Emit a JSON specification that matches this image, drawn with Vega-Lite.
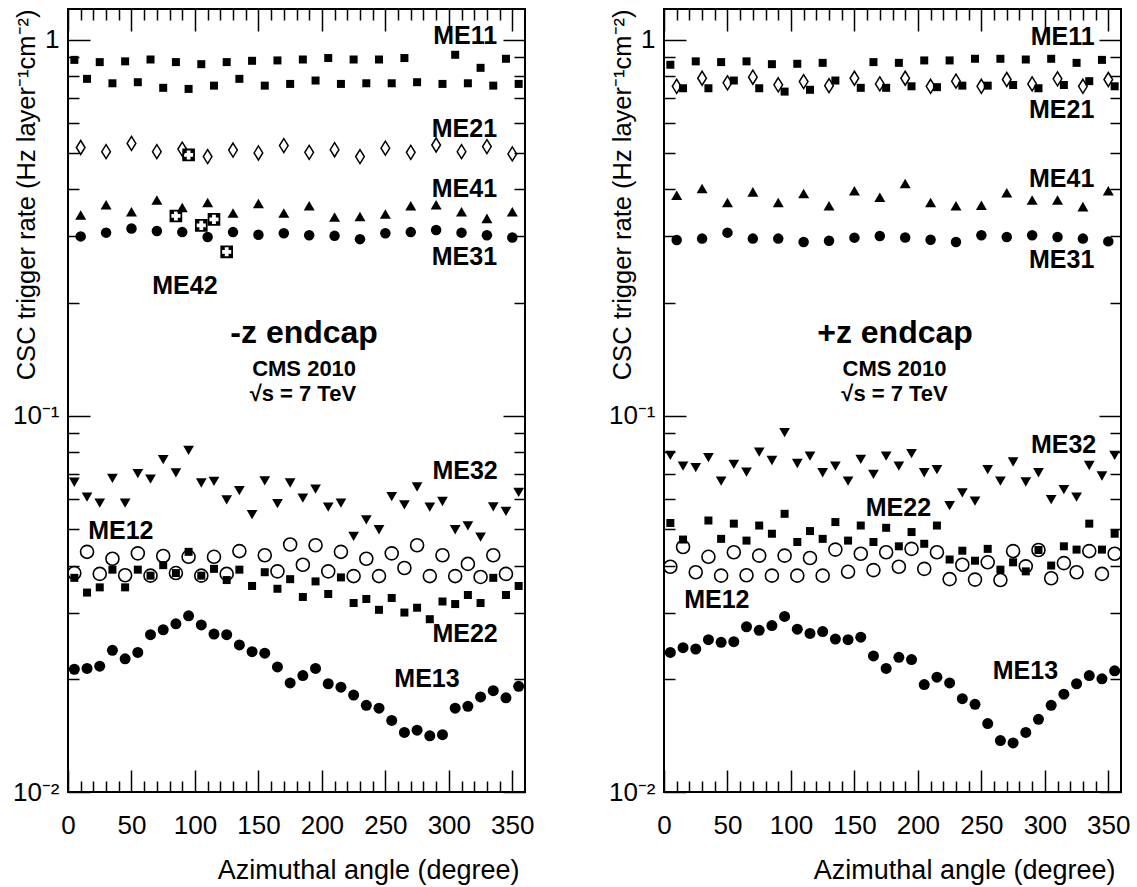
{
"$schema":"https://vega.github.io/schema/vega-lite/v6.json",
"background":"white",
"padding":{"left":11,"top":7,"right":5,"bottom":5},
"config":{"view":{"stroke":"black","strokeWidth":2},"font":"Liberation Sans"},
"datasets":{
"zm":[
{"s":"ME11","phi":5,"r":0.884},{"s":"ME11","phi":15,"r":0.787},{"s":"ME11","phi":25,"r":0.872},{"s":"ME11","phi":35,"r":0.766},{"s":"ME11","phi":45,"r":0.876},{"s":"ME11","phi":55,"r":0.771},{"s":"ME11","phi":65,"r":0.886},{"s":"ME11","phi":75,"r":0.745},{"s":"ME11","phi":85,"r":0.872},{"s":"ME11","phi":95,"r":0.740},{"s":"ME11","phi":105,"r":0.861},{"s":"ME11","phi":115,"r":0.755},{"s":"ME11","phi":125,"r":0.872},{"s":"ME11","phi":135,"r":0.787},{"s":"ME11","phi":145,"r":0.879},{"s":"ME11","phi":155,"r":0.755},{"s":"ME11","phi":165,"r":0.881},{"s":"ME11","phi":175,"r":0.763},{"s":"ME11","phi":185,"r":0.886},{"s":"ME11","phi":195,"r":0.779},{"s":"ME11","phi":205,"r":0.894},{"s":"ME11","phi":215,"r":0.763},{"s":"ME11","phi":225,"r":0.886},{"s":"ME11","phi":235,"r":0.766},{"s":"ME11","phi":245,"r":0.886},{"s":"ME11","phi":255,"r":0.766},{"s":"ME11","phi":265,"r":0.894},{"s":"ME11","phi":275,"r":0.771},{"s":"ME11","phi":295,"r":0.763},{"s":"ME11","phi":305,"r":0.912},{"s":"ME11","phi":315,"r":0.766},{"s":"ME11","phi":325,"r":0.842},{"s":"ME11","phi":335,"r":0.755},{"s":"ME11","phi":345,"r":0.89},{"s":"ME11","phi":355,"r":0.763},
{"s":"ME21","phi":10,"r":0.517},{"s":"ME21","phi":30,"r":0.504},{"s":"ME21","phi":50,"r":0.530},{"s":"ME21","phi":70,"r":0.504},{"s":"ME21","phi":90,"r":0.512},{"s":"ME21","phi":110,"r":0.489},{"s":"ME21","phi":130,"r":0.509},{"s":"ME21","phi":150,"r":0.500},{"s":"ME21","phi":170,"r":0.523},{"s":"ME21","phi":190,"r":0.502},{"s":"ME21","phi":210,"r":0.510},{"s":"ME21","phi":230,"r":0.489},{"s":"ME21","phi":250,"r":0.515},{"s":"ME21","phi":270,"r":0.502},{"s":"ME21","phi":290,"r":0.525},{"s":"ME21","phi":310,"r":0.504},{"s":"ME21","phi":330,"r":0.520},{"s":"ME21","phi":350,"r":0.497},
{"s":"ME41","phi":10,"r":0.342},{"s":"ME41","phi":30,"r":0.364},{"s":"ME41","phi":50,"r":0.349},{"s":"ME41","phi":70,"r":0.375},{"s":"ME41","phi":90,"r":0.358},{"s":"ME41","phi":110,"r":0.369},{"s":"ME41","phi":130,"r":0.346},{"s":"ME41","phi":150,"r":0.367},{"s":"ME41","phi":170,"r":0.346},{"s":"ME41","phi":190,"r":0.362},{"s":"ME41","phi":210,"r":0.338},{"s":"ME41","phi":230,"r":0.339},{"s":"ME41","phi":250,"r":0.344},{"s":"ME41","phi":270,"r":0.362},{"s":"ME41","phi":290,"r":0.364},{"s":"ME41","phi":310,"r":0.349},{"s":"ME41","phi":330,"r":0.335},{"s":"ME41","phi":350,"r":0.349},
{"s":"ME31","phi":10,"r":0.300},{"s":"ME31","phi":30,"r":0.307},{"s":"ME31","phi":50,"r":0.315},{"s":"ME31","phi":70,"r":0.310},{"s":"ME31","phi":90,"r":0.308},{"s":"ME31","phi":110,"r":0.299},{"s":"ME31","phi":130,"r":0.308},{"s":"ME31","phi":150,"r":0.303},{"s":"ME31","phi":170,"r":0.306},{"s":"ME31","phi":190,"r":0.302},{"s":"ME31","phi":210,"r":0.301},{"s":"ME31","phi":230,"r":0.295},{"s":"ME31","phi":250,"r":0.306},{"s":"ME31","phi":270,"r":0.308},{"s":"ME31","phi":290,"r":0.312},{"s":"ME31","phi":310,"r":0.307},{"s":"ME31","phi":330,"r":0.302},{"s":"ME31","phi":350,"r":0.298},
{"s":"ME42","phi":85,"r":0.340},{"s":"ME42","phi":95,"r":0.494},{"s":"ME42","phi":105,"r":0.321},{"s":"ME42","phi":115,"r":0.333},{"s":"ME42","phi":125,"r":0.273},
{"s":"ME32","phi":5,"r":0.0666},{"s":"ME32","phi":15,"r":0.0608},{"s":"ME32","phi":25,"r":0.0586},{"s":"ME32","phi":35,"r":0.0682},{"s":"ME32","phi":45,"r":0.0586},{"s":"ME32","phi":55,"r":0.0702},{"s":"ME32","phi":65,"r":0.0679},{"s":"ME32","phi":75,"r":0.0765},{"s":"ME32","phi":85,"r":0.0705},{"s":"ME32","phi":95,"r":0.081},{"s":"ME32","phi":105,"r":0.0663},{"s":"ME32","phi":115,"r":0.067},{"s":"ME32","phi":125,"r":0.0598},{"s":"ME32","phi":135,"r":0.0633},{"s":"ME32","phi":145,"r":0.0546},{"s":"ME32","phi":155,"r":0.0672},{"s":"ME32","phi":165,"r":0.0584},{"s":"ME32","phi":175,"r":0.0663},{"s":"ME32","phi":185,"r":0.0604},{"s":"ME32","phi":195,"r":0.0639},{"s":"ME32","phi":205,"r":0.0572},{"s":"ME32","phi":215,"r":0.0586},{"s":"ME32","phi":225,"r":0.0478},{"s":"ME32","phi":235,"r":0.0529},{"s":"ME32","phi":245,"r":0.0498},{"s":"ME32","phi":255,"r":0.061},{"s":"ME32","phi":265,"r":0.058},{"s":"ME32","phi":275,"r":0.0647},{"s":"ME32","phi":285,"r":0.0572},{"s":"ME32","phi":295,"r":0.0592},{"s":"ME32","phi":305,"r":0.0498},{"s":"ME32","phi":315,"r":0.051},{"s":"ME32","phi":325,"r":0.0476},{"s":"ME32","phi":335,"r":0.0573},{"s":"ME32","phi":345,"r":0.0557},{"s":"ME32","phi":355,"r":0.0626},
{"s":"ME12","phi":5,"r":0.0382},{"s":"ME12","phi":15,"r":0.0435},{"s":"ME12","phi":25,"r":0.038},{"s":"ME12","phi":35,"r":0.0417},{"s":"ME12","phi":45,"r":0.0377},{"s":"ME12","phi":55,"r":0.0431},{"s":"ME12","phi":65,"r":0.0376},{"s":"ME12","phi":75,"r":0.0424},{"s":"ME12","phi":85,"r":0.0382},{"s":"ME12","phi":95,"r":0.0422},{"s":"ME12","phi":105,"r":0.0376},{"s":"ME12","phi":115,"r":0.0422},{"s":"ME12","phi":125,"r":0.038},{"s":"ME12","phi":135,"r":0.0437},{"s":"ME12","phi":155,"r":0.0426},{"s":"ME12","phi":165,"r":0.0386},{"s":"ME12","phi":175,"r":0.0455},{"s":"ME12","phi":185,"r":0.0402},{"s":"ME12","phi":195,"r":0.0453},{"s":"ME12","phi":205,"r":0.0386},{"s":"ME12","phi":215,"r":0.0435},{"s":"ME12","phi":225,"r":0.0375},{"s":"ME12","phi":235,"r":0.0417},{"s":"ME12","phi":245,"r":0.0375},{"s":"ME12","phi":255,"r":0.0431},{"s":"ME12","phi":265,"r":0.0394},{"s":"ME12","phi":275,"r":0.0453},{"s":"ME12","phi":285,"r":0.0375},{"s":"ME12","phi":295,"r":0.0426},{"s":"ME12","phi":305,"r":0.0375},{"s":"ME12","phi":315,"r":0.0404},{"s":"ME12","phi":325,"r":0.0373},{"s":"ME12","phi":335,"r":0.0426},{"s":"ME12","phi":345,"r":0.038},
{"s":"ME22","phi":5,"r":0.0371},{"s":"ME22","phi":15,"r":0.0339},{"s":"ME22","phi":25,"r":0.035},{"s":"ME22","phi":35,"r":0.039},{"s":"ME22","phi":45,"r":0.035},{"s":"ME22","phi":55,"r":0.039},{"s":"ME22","phi":65,"r":0.0376},{"s":"ME22","phi":75,"r":0.0401},{"s":"ME22","phi":85,"r":0.0382},{"s":"ME22","phi":95,"r":0.0435},{"s":"ME22","phi":105,"r":0.0376},{"s":"ME22","phi":115,"r":0.0392},{"s":"ME22","phi":125,"r":0.0366},{"s":"ME22","phi":135,"r":0.039},{"s":"ME22","phi":145,"r":0.0353},{"s":"ME22","phi":155,"r":0.0384},{"s":"ME22","phi":165,"r":0.0347},{"s":"ME22","phi":175,"r":0.0368},{"s":"ME22","phi":185,"r":0.033},{"s":"ME22","phi":195,"r":0.0363},{"s":"ME22","phi":205,"r":0.0336},{"s":"ME22","phi":215,"r":0.0372},{"s":"ME22","phi":225,"r":0.0318},{"s":"ME22","phi":235,"r":0.0326},{"s":"ME22","phi":245,"r":0.0305},{"s":"ME22","phi":255,"r":0.0328},{"s":"ME22","phi":265,"r":0.03},{"s":"ME22","phi":275,"r":0.0309},{"s":"ME22","phi":285,"r":0.0288},{"s":"ME22","phi":295,"r":0.0321},{"s":"ME22","phi":305,"r":0.0316},{"s":"ME22","phi":315,"r":0.0334},{"s":"ME22","phi":325,"r":0.0318},{"s":"ME22","phi":335,"r":0.0371},{"s":"ME22","phi":345,"r":0.0334},{"s":"ME22","phi":355,"r":0.0353},
{"s":"ME13","phi":5,"r":0.0212},{"s":"ME13","phi":15,"r":0.0213},{"s":"ME13","phi":25,"r":0.0216},{"s":"ME13","phi":35,"r":0.0238},{"s":"ME13","phi":45,"r":0.0226},{"s":"ME13","phi":55,"r":0.0235},{"s":"ME13","phi":65,"r":0.0262},{"s":"ME13","phi":75,"r":0.027},{"s":"ME13","phi":85,"r":0.028},{"s":"ME13","phi":95,"r":0.0294},{"s":"ME13","phi":105,"r":0.0278},{"s":"ME13","phi":115,"r":0.0263},{"s":"ME13","phi":125,"r":0.0262},{"s":"ME13","phi":135,"r":0.0246},{"s":"ME13","phi":145,"r":0.0236},{"s":"ME13","phi":155,"r":0.0234},{"s":"ME13","phi":165,"r":0.0215},{"s":"ME13","phi":175,"r":0.0195},{"s":"ME13","phi":185,"r":0.0204},{"s":"ME13","phi":195,"r":0.0213},{"s":"ME13","phi":205,"r":0.0194},{"s":"ME13","phi":215,"r":0.019},{"s":"ME13","phi":225,"r":0.0181},{"s":"ME13","phi":235,"r":0.017},{"s":"ME13","phi":245,"r":0.0167},{"s":"ME13","phi":255,"r":0.0155},{"s":"ME13","phi":265,"r":0.0144},{"s":"ME13","phi":275,"r":0.0146},{"s":"ME13","phi":285,"r":0.0141},{"s":"ME13","phi":295,"r":0.0142},{"s":"ME13","phi":305,"r":0.0167},{"s":"ME13","phi":315,"r":0.0169},{"s":"ME13","phi":325,"r":0.0179},{"s":"ME13","phi":335,"r":0.0186},{"s":"ME13","phi":345,"r":0.0178},{"s":"ME13","phi":355,"r":0.0191}
],
"zp":[
{"s":"ME11","phi":5,"r":0.858},{"s":"ME11","phi":15,"r":0.743},{"s":"ME11","phi":25,"r":0.876},{"s":"ME11","phi":35,"r":0.743},{"s":"ME11","phi":45,"r":0.872},{"s":"ME11","phi":55,"r":0.779},{"s":"ME11","phi":65,"r":0.876},{"s":"ME11","phi":75,"r":0.743},{"s":"ME11","phi":85,"r":0.861},{"s":"ME11","phi":95,"r":0.728},{"s":"ME11","phi":105,"r":0.863},{"s":"ME11","phi":115,"r":0.736},{"s":"ME11","phi":125,"r":0.868},{"s":"ME11","phi":135,"r":0.779},{"s":"ME11","phi":155,"r":0.745},{"s":"ME11","phi":165,"r":0.872},{"s":"ME11","phi":175,"r":0.745},{"s":"ME11","phi":185,"r":0.868},{"s":"ME11","phi":195,"r":0.752},{"s":"ME11","phi":205,"r":0.881},{"s":"ME11","phi":215,"r":0.748},{"s":"ME11","phi":225,"r":0.881},{"s":"ME11","phi":235,"r":0.755},{"s":"ME11","phi":245,"r":0.89},{"s":"ME11","phi":255,"r":0.755},{"s":"ME11","phi":265,"r":0.89},{"s":"ME11","phi":275,"r":0.758},{"s":"ME11","phi":285,"r":0.886},{"s":"ME11","phi":295,"r":0.743},{"s":"ME11","phi":305,"r":0.89},{"s":"ME11","phi":315,"r":0.758},{"s":"ME11","phi":325,"r":0.868},{"s":"ME11","phi":335,"r":0.776},{"s":"ME11","phi":345,"r":0.884},{"s":"ME11","phi":355,"r":0.752},
{"s":"ME21","phi":10,"r":0.752},{"s":"ME21","phi":30,"r":0.79},{"s":"ME21","phi":50,"r":0.768},{"s":"ME21","phi":70,"r":0.795},{"s":"ME21","phi":90,"r":0.759},{"s":"ME21","phi":110,"r":0.774},{"s":"ME21","phi":130,"r":0.755},{"s":"ME21","phi":150,"r":0.79},{"s":"ME21","phi":170,"r":0.763},{"s":"ME21","phi":190,"r":0.79},{"s":"ME21","phi":210,"r":0.752},{"s":"ME21","phi":230,"r":0.776},{"s":"ME21","phi":250,"r":0.752},{"s":"ME21","phi":270,"r":0.784},{"s":"ME21","phi":290,"r":0.763},{"s":"ME21","phi":310,"r":0.787},{"s":"ME21","phi":330,"r":0.752},{"s":"ME21","phi":350,"r":0.784},
{"s":"ME41","phi":10,"r":0.386},{"s":"ME41","phi":30,"r":0.402},{"s":"ME41","phi":50,"r":0.369},{"s":"ME41","phi":70,"r":0.394},{"s":"ME41","phi":90,"r":0.369},{"s":"ME41","phi":110,"r":0.39},{"s":"ME41","phi":130,"r":0.362},{"s":"ME41","phi":150,"r":0.397},{"s":"ME41","phi":170,"r":0.381},{"s":"ME41","phi":190,"r":0.415},{"s":"ME41","phi":210,"r":0.369},{"s":"ME41","phi":230,"r":0.362},{"s":"ME41","phi":250,"r":0.363},{"s":"ME41","phi":270,"r":0.392},{"s":"ME41","phi":290,"r":0.375},{"s":"ME41","phi":310,"r":0.375},{"s":"ME41","phi":330,"r":0.36},{"s":"ME41","phi":350,"r":0.397},
{"s":"ME31","phi":10,"r":0.2935},{"s":"ME31","phi":30,"r":0.296},{"s":"ME31","phi":50,"r":0.307},{"s":"ME31","phi":70,"r":0.296},{"s":"ME31","phi":90,"r":0.296},{"s":"ME31","phi":110,"r":0.29},{"s":"ME31","phi":130,"r":0.292},{"s":"ME31","phi":150,"r":0.2977},{"s":"ME31","phi":170,"r":0.3007},{"s":"ME31","phi":190,"r":0.298},{"s":"ME31","phi":210,"r":0.294},{"s":"ME31","phi":230,"r":0.29},{"s":"ME31","phi":250,"r":0.302},{"s":"ME31","phi":270,"r":0.299},{"s":"ME31","phi":290,"r":0.302},{"s":"ME31","phi":310,"r":0.299},{"s":"ME31","phi":330,"r":0.296},{"s":"ME31","phi":350,"r":0.291},
{"s":"ME32","phi":5,"r":0.0785},{"s":"ME32","phi":15,"r":0.0735},{"s":"ME32","phi":25,"r":0.0728},{"s":"ME32","phi":35,"r":0.0774},{"s":"ME32","phi":45,"r":0.0671},{"s":"ME32","phi":55,"r":0.0743},{"s":"ME32","phi":65,"r":0.0709},{"s":"ME32","phi":75,"r":0.0801},{"s":"ME32","phi":85,"r":0.0761},{"s":"ME32","phi":95,"r":0.0902},{"s":"ME32","phi":105,"r":0.0747},{"s":"ME32","phi":115,"r":0.0782},{"s":"ME32","phi":125,"r":0.0706},{"s":"ME32","phi":135,"r":0.0735},{"s":"ME32","phi":145,"r":0.0671},{"s":"ME32","phi":155,"r":0.0766},{"s":"ME32","phi":165,"r":0.0699},{"s":"ME32","phi":175,"r":0.0782},{"s":"ME32","phi":185,"r":0.0735},{"s":"ME32","phi":195,"r":0.0794},{"s":"ME32","phi":205,"r":0.0706},{"s":"ME32","phi":215,"r":0.072},{"s":"ME32","phi":225,"r":0.0577},{"s":"ME32","phi":235,"r":0.0624},{"s":"ME32","phi":245,"r":0.0593},{"s":"ME32","phi":255,"r":0.072},{"s":"ME32","phi":265,"r":0.0671},{"s":"ME32","phi":275,"r":0.0754},{"s":"ME32","phi":285,"r":0.0667},{"s":"ME32","phi":295,"r":0.0706},{"s":"ME32","phi":305,"r":0.0599},{"s":"ME32","phi":315,"r":0.0637},{"s":"ME32","phi":325,"r":0.0608},{"s":"ME32","phi":335,"r":0.0738},{"s":"ME32","phi":345,"r":0.0692},{"s":"ME32","phi":355,"r":0.0785},
{"s":"ME22","phi":5,"r":0.0519},{"s":"ME22","phi":15,"r":0.0469},{"s":"ME22","phi":35,"r":0.0527},{"s":"ME22","phi":45,"r":0.0471},{"s":"ME22","phi":55,"r":0.0517},{"s":"ME22","phi":65,"r":0.0466},{"s":"ME22","phi":75,"r":0.0511},{"s":"ME22","phi":85,"r":0.0486},{"s":"ME22","phi":95,"r":0.0549},{"s":"ME22","phi":105,"r":0.0462},{"s":"ME22","phi":115,"r":0.0494},{"s":"ME22","phi":125,"r":0.0471},{"s":"ME22","phi":135,"r":0.0522},{"s":"ME22","phi":145,"r":0.0466},{"s":"ME22","phi":155,"r":0.0511},{"s":"ME22","phi":165,"r":0.0462},{"s":"ME22","phi":175,"r":0.0504},{"s":"ME22","phi":185,"r":0.045},{"s":"ME22","phi":195,"r":0.0491},{"s":"ME22","phi":205,"r":0.0457},{"s":"ME22","phi":215,"r":0.0511},{"s":"ME22","phi":225,"r":0.0415},{"s":"ME22","phi":235,"r":0.0438},{"s":"ME22","phi":245,"r":0.0412},{"s":"ME22","phi":255,"r":0.0443},{"s":"ME22","phi":265,"r":0.039},{"s":"ME22","phi":275,"r":0.0408},{"s":"ME22","phi":285,"r":0.0386},{"s":"ME22","phi":295,"r":0.044},{"s":"ME22","phi":305,"r":0.04},{"s":"ME22","phi":315,"r":0.045},{"s":"ME22","phi":325,"r":0.0441},{"s":"ME22","phi":335,"r":0.0517},{"s":"ME22","phi":345,"r":0.0441},{"s":"ME22","phi":355,"r":0.0486},
{"s":"ME12","phi":5,"r":0.0397},{"s":"ME12","phi":15,"r":0.0448},{"s":"ME12","phi":25,"r":0.0384},{"s":"ME12","phi":35,"r":0.0422},{"s":"ME12","phi":45,"r":0.0376},{"s":"ME12","phi":55,"r":0.0434},{"s":"ME12","phi":65,"r":0.0377},{"s":"ME12","phi":75,"r":0.0425},{"s":"ME12","phi":85,"r":0.0376},{"s":"ME12","phi":95,"r":0.0425},{"s":"ME12","phi":105,"r":0.0376},{"s":"ME12","phi":115,"r":0.0419},{"s":"ME12","phi":125,"r":0.0376},{"s":"ME12","phi":135,"r":0.0441},{"s":"ME12","phi":145,"r":0.0385},{"s":"ME12","phi":155,"r":0.043},{"s":"ME12","phi":165,"r":0.0389},{"s":"ME12","phi":175,"r":0.0434},{"s":"ME12","phi":185,"r":0.0397},{"s":"ME12","phi":195,"r":0.0443},{"s":"ME12","phi":205,"r":0.0392},{"s":"ME12","phi":215,"r":0.0434},{"s":"ME12","phi":225,"r":0.0368},{"s":"ME12","phi":235,"r":0.0402},{"s":"ME12","phi":245,"r":0.0367},{"s":"ME12","phi":255,"r":0.0408},{"s":"ME12","phi":265,"r":0.0366},{"s":"ME12","phi":275,"r":0.0437},{"s":"ME12","phi":285,"r":0.0398},{"s":"ME12","phi":295,"r":0.044},{"s":"ME12","phi":305,"r":0.037},{"s":"ME12","phi":315,"r":0.0406},{"s":"ME12","phi":325,"r":0.0384},{"s":"ME12","phi":335,"r":0.0437},{"s":"ME12","phi":345,"r":0.038},{"s":"ME12","phi":355,"r":0.043},
{"s":"ME13","phi":5,"r":0.0235},{"s":"ME13","phi":15,"r":0.0242},{"s":"ME13","phi":25,"r":0.024},{"s":"ME13","phi":35,"r":0.0254},{"s":"ME13","phi":45,"r":0.025},{"s":"ME13","phi":55,"r":0.0251},{"s":"ME13","phi":65,"r":0.0275},{"s":"ME13","phi":75,"r":0.0269},{"s":"ME13","phi":85,"r":0.0277},{"s":"ME13","phi":95,"r":0.0293},{"s":"ME13","phi":105,"r":0.0271},{"s":"ME13","phi":115,"r":0.0264},{"s":"ME13","phi":125,"r":0.0267},{"s":"ME13","phi":135,"r":0.0255},{"s":"ME13","phi":145,"r":0.0254},{"s":"ME13","phi":155,"r":0.0258},{"s":"ME13","phi":165,"r":0.023},{"s":"ME13","phi":175,"r":0.0213},{"s":"ME13","phi":185,"r":0.0228},{"s":"ME13","phi":195,"r":0.0225},{"s":"ME13","phi":205,"r":0.0193},{"s":"ME13","phi":215,"r":0.0202},{"s":"ME13","phi":225,"r":0.0195},{"s":"ME13","phi":235,"r":0.0177},{"s":"ME13","phi":245,"r":0.0171},{"s":"ME13","phi":255,"r":0.0152},{"s":"ME13","phi":265,"r":0.0137},{"s":"ME13","phi":275,"r":0.0135},{"s":"ME13","phi":285,"r":0.0144},{"s":"ME13","phi":295,"r":0.0156},{"s":"ME13","phi":305,"r":0.017},{"s":"ME13","phi":315,"r":0.0182},{"s":"ME13","phi":325,"r":0.0194},{"s":"ME13","phi":335,"r":0.0204},{"s":"ME13","phi":345,"r":0.02},{"s":"ME13","phi":355,"r":0.021}
],
"labm":[
{"t":"ME11","k":"R","phi":338,"r":1.02},{"t":"ME21","k":"R","phi":338,"r":0.579},{"t":"ME41","k":"R","phi":338,"r":0.401},{"t":"ME31","k":"R","phi":338,"r":0.264},{"t":"ME32","k":"R","phi":338.5,"r":0.0714},{"t":"ME22","k":"R","phi":338.5,"r":0.0263},{"t":"ME13","k":"R","phi":308.5,"r":0.02},
{"t":"ME42","k":"L","phi":66.4,"r":0.222},{"t":"ME12","k":"L","phi":15.9,"r":0.0495},
{"t":"-z endcap","k":"T","phi":186,"r":0.1665},
{"t":"CMS 2010","k":"C","phi":186,"r":0.1336},{"t":"√s = 7 TeV","k":"C","phi":185,"r":0.1146}
],
"labp":[
{"t":"ME11","k":"R","phi":339.2,"r":1.017},{"t":"ME21","k":"R","phi":339,"r":0.652},{"t":"ME41","k":"R","phi":339,"r":0.4256},{"t":"ME31","k":"R","phi":339,"r":0.26},{"t":"ME32","k":"R","phi":340.5,"r":0.0835},{"t":"ME22","k":"R","phi":210.4,"r":0.0568},{"t":"ME13","k":"R","phi":310.4,"r":0.021},
{"t":"ME12","k":"L","phi":15.9,"r":0.0324},
{"t":"+z endcap","k":"T","phi":182,"r":0.1658},
{"t":"CMS 2010","k":"C","phi":181.6,"r":0.1333},{"t":"√s = 7 TeV","k":"C","phi":181.6,"r":0.1146}
]
},
"bounds":"flush",
"spacing":139,
"hconcat":[
{
"width":457,"height":783,
"encoding":{
"x":{"field":"phi","type":"quantitative","scale":{"domain":[0,360],"nice":false,"zero":false},"axis":null},
"y":{"field":"r","type":"quantitative","scale":{"type":"log","domain":[0.01,1.207],"nice":false},"axis":null}
},
"resolve":{"axis":{"x":"independent","y":"independent"}},
"layer":[
{"data":{"name":"zm"},"transform":[{"filter":"datum.s=='ME11'"}],"mark":{"type":"point","shape":"square","filled":true,"color":"black","opacity":1,"size":64},
"encoding":{
"x":{"field":"phi","type":"quantitative","scale":{"domain":[0,360],"nice":false,"zero":false},"axis":{"orient":"bottom","values":[0,50,100,150,200,250,300,350],"tickSize":-22,"tickWidth":1.5,"tickColor":"black","domain":false,"grid":false,"labelFont":"Liberation Sans","labelFontSize":26,"labelColor":"black","labelPadding":42,"labelFlush":false,"labelOverlap":false,"title":"Azimuthal angle (degree)","titleFont":"Liberation Sans","titleFontSize":27,"titleFontWeight":"normal","titleColor":"black","titleAlign":"right","titleAnchor":"end","titleX":451,"titleY":86,"titleBaseline":"alphabetic"}},
"y":{"field":"r","type":"quantitative","scale":{"type":"log","domain":[0.01,1.207],"nice":false},"axis":{"orient":"left","values":[0.01,0.1,1],"tickSize":-22,"tickWidth":1.5,"tickColor":"black","domain":false,"grid":false,"labelFont":"Liberation Sans","labelFontSize":26,"labelColor":"black","labelPadding":31,"labelOverlap":false,"labelFlush":false,"labelExpr":"datum.value > 0.5 ? '1' : (datum.value > 0.05 ? '10⁻¹' : '10⁻²')","title":"CSC trigger rate (Hz layer⁻¹cm⁻²)","titleFont":"Liberation Sans","titleFontSize":25.5,"titleFontWeight":"normal","titleColor":"black","titleAngle":-90,"titleAlign":"right","titleBaseline":"alphabetic","titleX":-34,"titleY":0}}
}},
{"data":{"name":"zm"},"transform":[{"filter":"datum.s=='ME21'"}],"mark":{"type":"point","shape":"M0,-1L0.62,0L0,1L-0.62,0Z","filled":false,"color":"black","opacity":1,"size":196,"strokeWidth":1.5},
"encoding":{
"x":{"field":"phi","type":"quantitative","scale":{"domain":[0,360],"nice":false,"zero":false},"axis":{"orient":"bottom","values":[10,20,30,40,60,70,80,90,110,120,130,140,160,170,180,190,210,220,230,240,260,270,280,290,310,320,330,340],"tickSize":-11,"tickWidth":1.5,"tickColor":"black","domain":false,"grid":false,"labels":false,"title":null}},
"y":{"field":"r","type":"quantitative","scale":{"type":"log","domain":[0.01,1.207],"nice":false},"axis":{"orient":"left","values":[0.02,0.03,0.04,0.05,0.06,0.07,0.08,0.09,0.2,0.3,0.4,0.5,0.6,0.7,0.8,0.9],"tickSize":-11,"tickWidth":1.5,"tickColor":"black","domain":false,"grid":false,"labels":false,"title":null}}
}},
{"data":{"name":"zm"},"transform":[{"filter":"datum.s=='ME41'"}],"mark":{"type":"point","shape":"triangle-up","filled":true,"color":"black","opacity":1,"size":121},
"encoding":{
"x":{"field":"phi","type":"quantitative","scale":{"domain":[0,360],"nice":false,"zero":false},"axis":{"orient":"top","values":[0,50,100,150,200,250,300,350],"tickSize":-22,"tickWidth":1.5,"tickColor":"black","domain":false,"grid":false,"labels":false,"title":null}},
"y":{"field":"r","type":"quantitative","scale":{"type":"log","domain":[0.01,1.207],"nice":false},"axis":{"orient":"right","values":[0.01,0.1,1],"tickSize":-22,"tickWidth":1.5,"tickColor":"black","domain":false,"grid":false,"labels":false,"title":null}}
}},
{"data":{"name":"zm"},"transform":[{"filter":"datum.s=='ME31'"}],"mark":{"type":"point","shape":"circle","filled":true,"color":"black","opacity":1,"size":110},
"encoding":{
"x":{"field":"phi","type":"quantitative","scale":{"domain":[0,360],"nice":false,"zero":false},"axis":{"orient":"top","values":[10,20,30,40,60,70,80,90,110,120,130,140,160,170,180,190,210,220,230,240,260,270,280,290,310,320,330,340],"tickSize":-11,"tickWidth":1.5,"tickColor":"black","domain":false,"grid":false,"labels":false,"title":null}},
"y":{"field":"r","type":"quantitative","scale":{"type":"log","domain":[0.01,1.207],"nice":false},"axis":{"orient":"right","values":[0.02,0.03,0.04,0.05,0.06,0.07,0.08,0.09,0.2,0.3,0.4,0.5,0.6,0.7,0.8,0.9],"tickSize":-11,"tickWidth":1.5,"tickColor":"black","domain":false,"grid":false,"labels":false,"title":null}}
}},
{"data":{"name":"zm"},"transform":[{"filter":"datum.s=='ME42'"}],"mark":{"type":"point","shape":"M-1,-1L1,-1L1,1L-1,1ZM-0.3,-0.3L-0.72,-0.3L-0.72,0.3L-0.3,0.3L-0.3,0.72L0.3,0.72L0.3,0.3L0.72,0.3L0.72,-0.3L0.3,-0.3L0.3,-0.72L-0.3,-0.72Z","filled":true,"color":"black","opacity":1,"size":160}},
{"data":{"name":"zm"},"transform":[{"filter":"datum.s=='ME32'"}],"mark":{"type":"point","shape":"triangle-down","filled":true,"color":"black","opacity":1,"size":115}},
{"data":{"name":"zm"},"transform":[{"filter":"datum.s=='ME12'"}],"mark":{"type":"point","shape":"circle","filled":false,"color":"black","opacity":1,"size":169,"strokeWidth":1.6}},
{"data":{"name":"zm"},"transform":[{"filter":"datum.s=='ME22'"}],"mark":{"type":"point","shape":"square","filled":true,"color":"black","opacity":1,"size":64}},
{"data":{"name":"zm"},"transform":[{"filter":"datum.s=='ME13'"}],"mark":{"type":"point","shape":"circle","filled":true,"color":"black","opacity":1,"size":121}},
{"data":{"name":"labm"},"transform":[{"filter":"datum.k=='R'"}],"mark":{"type":"text","align":"right","baseline":"middle","font":"Liberation Sans","fontWeight":"bold","fontSize":25,"color":"black"},"encoding":{"text":{"field":"t","type":"nominal"}}},
{"data":{"name":"labm"},"transform":[{"filter":"datum.k=='L'"}],"mark":{"type":"text","align":"left","baseline":"middle","font":"Liberation Sans","fontWeight":"bold","fontSize":25,"color":"black"},"encoding":{"text":{"field":"t","type":"nominal"}}},
{"data":{"name":"labm"},"transform":[{"filter":"datum.k=='T'"}],"mark":{"type":"text","align":"center","baseline":"middle","font":"Liberation Sans","fontWeight":"bold","fontSize":32,"color":"black"},"encoding":{"text":{"field":"t","type":"nominal"}}},
{"data":{"name":"labm"},"transform":[{"filter":"datum.k=='C'"}],"mark":{"type":"text","align":"center","baseline":"middle","font":"Liberation Sans","fontWeight":"bold","fontSize":22,"color":"black"},"encoding":{"text":{"field":"t","type":"nominal"}}}
]
},
{
"width":457,"height":783,
"encoding":{
"x":{"field":"phi","type":"quantitative","scale":{"domain":[0,360],"nice":false,"zero":false},"axis":null},
"y":{"field":"r","type":"quantitative","scale":{"type":"log","domain":[0.01,1.207],"nice":false},"axis":null}
},
"resolve":{"axis":{"x":"independent","y":"independent"}},
"layer":[
{"data":{"name":"zp"},"transform":[{"filter":"datum.s=='ME11'"}],"mark":{"type":"point","shape":"square","filled":true,"color":"black","opacity":1,"size":64},
"encoding":{
"x":{"field":"phi","type":"quantitative","scale":{"domain":[0,360],"nice":false,"zero":false},"axis":{"orient":"bottom","values":[0,50,100,150,200,250,300,350],"tickSize":-22,"tickWidth":1.5,"tickColor":"black","domain":false,"grid":false,"labelFont":"Liberation Sans","labelFontSize":26,"labelColor":"black","labelPadding":42,"labelFlush":false,"labelOverlap":false,"title":"Azimuthal angle (degree)","titleFont":"Liberation Sans","titleFontSize":27,"titleFontWeight":"normal","titleColor":"black","titleAlign":"right","titleAnchor":"end","titleX":451,"titleY":86,"titleBaseline":"alphabetic"}},
"y":{"field":"r","type":"quantitative","scale":{"type":"log","domain":[0.01,1.207],"nice":false},"axis":{"orient":"left","values":[0.01,0.1,1],"tickSize":-22,"tickWidth":1.5,"tickColor":"black","domain":false,"grid":false,"labelFont":"Liberation Sans","labelFontSize":26,"labelColor":"black","labelPadding":31,"labelOverlap":false,"labelFlush":false,"labelExpr":"datum.value > 0.5 ? '1' : (datum.value > 0.05 ? '10⁻¹' : '10⁻²')","title":"CSC trigger rate (Hz layer⁻¹cm⁻²)","titleFont":"Liberation Sans","titleFontSize":25.5,"titleFontWeight":"normal","titleColor":"black","titleAngle":-90,"titleAlign":"right","titleBaseline":"alphabetic","titleX":-34,"titleY":0}}
}},
{"data":{"name":"zp"},"transform":[{"filter":"datum.s=='ME21'"}],"mark":{"type":"point","shape":"M0,-1L0.62,0L0,1L-0.62,0Z","filled":false,"color":"black","opacity":1,"size":196,"strokeWidth":1.5},
"encoding":{
"x":{"field":"phi","type":"quantitative","scale":{"domain":[0,360],"nice":false,"zero":false},"axis":{"orient":"bottom","values":[10,20,30,40,60,70,80,90,110,120,130,140,160,170,180,190,210,220,230,240,260,270,280,290,310,320,330,340],"tickSize":-11,"tickWidth":1.5,"tickColor":"black","domain":false,"grid":false,"labels":false,"title":null}},
"y":{"field":"r","type":"quantitative","scale":{"type":"log","domain":[0.01,1.207],"nice":false},"axis":{"orient":"left","values":[0.02,0.03,0.04,0.05,0.06,0.07,0.08,0.09,0.2,0.3,0.4,0.5,0.6,0.7,0.8,0.9],"tickSize":-11,"tickWidth":1.5,"tickColor":"black","domain":false,"grid":false,"labels":false,"title":null}}
}},
{"data":{"name":"zp"},"transform":[{"filter":"datum.s=='ME41'"}],"mark":{"type":"point","shape":"triangle-up","filled":true,"color":"black","opacity":1,"size":121},
"encoding":{
"x":{"field":"phi","type":"quantitative","scale":{"domain":[0,360],"nice":false,"zero":false},"axis":{"orient":"top","values":[0,50,100,150,200,250,300,350],"tickSize":-22,"tickWidth":1.5,"tickColor":"black","domain":false,"grid":false,"labels":false,"title":null}},
"y":{"field":"r","type":"quantitative","scale":{"type":"log","domain":[0.01,1.207],"nice":false},"axis":{"orient":"right","values":[0.01,0.1,1],"tickSize":-22,"tickWidth":1.5,"tickColor":"black","domain":false,"grid":false,"labels":false,"title":null}}
}},
{"data":{"name":"zp"},"transform":[{"filter":"datum.s=='ME31'"}],"mark":{"type":"point","shape":"circle","filled":true,"color":"black","opacity":1,"size":110},
"encoding":{
"x":{"field":"phi","type":"quantitative","scale":{"domain":[0,360],"nice":false,"zero":false},"axis":{"orient":"top","values":[10,20,30,40,60,70,80,90,110,120,130,140,160,170,180,190,210,220,230,240,260,270,280,290,310,320,330,340],"tickSize":-11,"tickWidth":1.5,"tickColor":"black","domain":false,"grid":false,"labels":false,"title":null}},
"y":{"field":"r","type":"quantitative","scale":{"type":"log","domain":[0.01,1.207],"nice":false},"axis":{"orient":"right","values":[0.02,0.03,0.04,0.05,0.06,0.07,0.08,0.09,0.2,0.3,0.4,0.5,0.6,0.7,0.8,0.9],"tickSize":-11,"tickWidth":1.5,"tickColor":"black","domain":false,"grid":false,"labels":false,"title":null}}
}},
{"data":{"name":"zp"},"transform":[{"filter":"datum.s=='ME32'"}],"mark":{"type":"point","shape":"triangle-down","filled":true,"color":"black","opacity":1,"size":115}},
{"data":{"name":"zp"},"transform":[{"filter":"datum.s=='ME12'"}],"mark":{"type":"point","shape":"circle","filled":false,"color":"black","opacity":1,"size":169,"strokeWidth":1.6}},
{"data":{"name":"zp"},"transform":[{"filter":"datum.s=='ME22'"}],"mark":{"type":"point","shape":"square","filled":true,"color":"black","opacity":1,"size":64}},
{"data":{"name":"zp"},"transform":[{"filter":"datum.s=='ME13'"}],"mark":{"type":"point","shape":"circle","filled":true,"color":"black","opacity":1,"size":121}},
{"data":{"name":"labp"},"transform":[{"filter":"datum.k=='R'"}],"mark":{"type":"text","align":"right","baseline":"middle","font":"Liberation Sans","fontWeight":"bold","fontSize":25,"color":"black"},"encoding":{"text":{"field":"t","type":"nominal"}}},
{"data":{"name":"labp"},"transform":[{"filter":"datum.k=='L'"}],"mark":{"type":"text","align":"left","baseline":"middle","font":"Liberation Sans","fontWeight":"bold","fontSize":25,"color":"black"},"encoding":{"text":{"field":"t","type":"nominal"}}},
{"data":{"name":"labp"},"transform":[{"filter":"datum.k=='T'"}],"mark":{"type":"text","align":"center","baseline":"middle","font":"Liberation Sans","fontWeight":"bold","fontSize":32,"color":"black"},"encoding":{"text":{"field":"t","type":"nominal"}}},
{"data":{"name":"labp"},"transform":[{"filter":"datum.k=='C'"}],"mark":{"type":"text","align":"center","baseline":"middle","font":"Liberation Sans","fontWeight":"bold","fontSize":22,"color":"black"},"encoding":{"text":{"field":"t","type":"nominal"}}}
]
}
]
}
